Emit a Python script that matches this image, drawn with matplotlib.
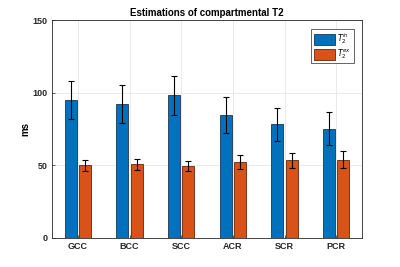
import matplotlib
matplotlib.use("Agg")
import matplotlib.pyplot as plt
import numpy as np

regions = ["GCC", "BCC", "SCC", "ACR", "SCR", "PCR"]
t2_in = [95.0, 92.3, 98.0, 84.7, 78.2, 75.1]
t2_in_err = [13.0, 13.0, 13.7, 12.4, 11.3, 11.4]
t2_ex = [49.8, 50.5, 49.3, 52.1, 53.2, 53.7]
t2_ex_err = [3.8, 4.0, 3.6, 4.8, 5.3, 5.9]

BLUE = "#0072BD"
ORANGE = "#D95319"

plt.rcParams["font.family"] = "Liberation Sans"

fig = plt.figure(figsize=(4, 2.67), dpi=100)
ax = fig.add_axes([0.13, 0.11, 0.775, 0.815])

x = np.arange(1, len(regions) + 1)
w = 0.23
off = 0.14
ax.bar(x - off, t2_in, w, color=BLUE, edgecolor="#1f3550", linewidth=0.6,
       label=r"$T_2^{in}$", zorder=3)
ax.bar(x + off, t2_ex, w, color=ORANGE, edgecolor="#5a2a10", linewidth=0.6,
       label=r"$T_2^{ex}$", zorder=3)
ax.errorbar(x - off, t2_in, yerr=t2_in_err, fmt="none", ecolor="black",
            elinewidth=0.8, capsize=2, capthick=0.8, zorder=4)
ax.errorbar(x + off, t2_ex, yerr=t2_ex_err, fmt="none", ecolor="black",
            elinewidth=0.8, capsize=2, capthick=0.8, zorder=4)

ax.set_xlim(0.5, 6.5)
ax.set_ylim(0, 150)
ax.set_xticks(x)
ax.set_xticklabels(regions, fontsize=6.5, fontweight="bold")
ax.set_yticks([0, 50, 100, 150])
ax.set_yticklabels(["0", "50", "100", "150"], fontsize=6.5, fontweight="bold")
ax.set_ylabel("ms", fontsize=7, fontweight="bold", labelpad=2)
ax.set_title("Estimations of compartmental T2", fontsize=7, fontweight="bold", pad=3)
ax.grid(True, color="#e6e6e6", linewidth=0.6, zorder=0)
ax.tick_params(direction="in", length=2.5, width=0.5, colors="#262626", pad=3)
for s in ax.spines.values():
    s.set_color("#262626")
    s.set_linewidth(0.6)

leg = ax.legend(loc="upper right", fontsize=5.5, handlelength=2.8, handleheight=1.9,
                fancybox=False, edgecolor="#262626", framealpha=1,
                borderpad=0.3, labelspacing=0.15, handletextpad=0.3,
                bbox_to_anchor=(0.985, 0.975))
leg.get_frame().set_linewidth(0.5)

fig.savefig("out.png", dpi=100)
